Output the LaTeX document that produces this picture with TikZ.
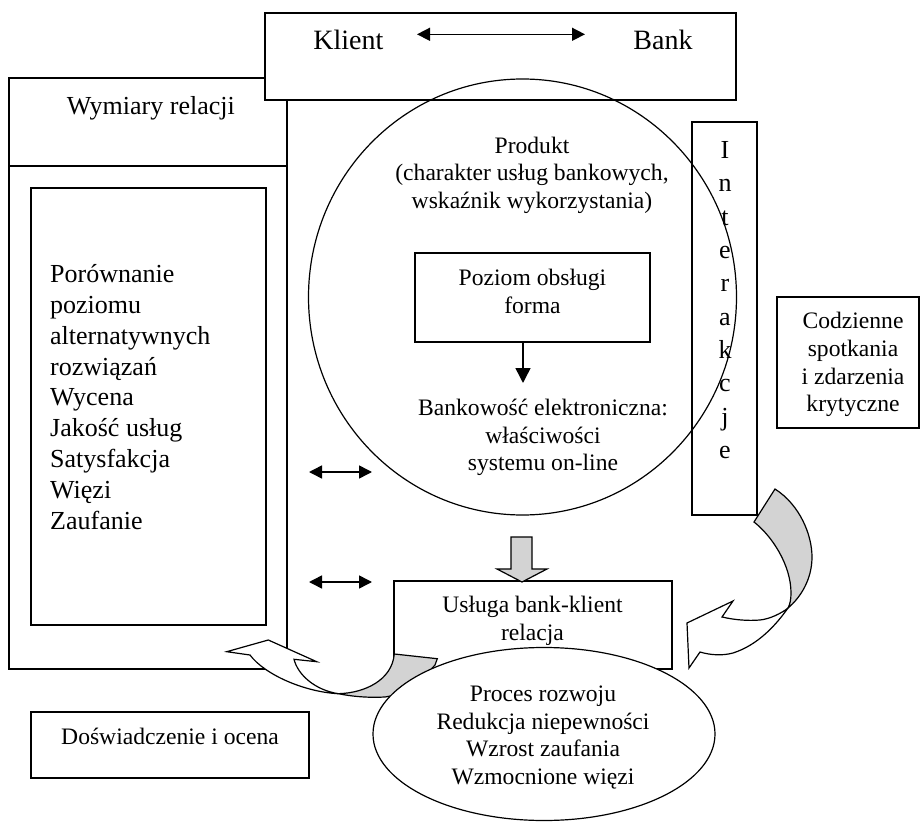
\documentclass[tikz,border=0pt]{standalone}
\usepackage{fontspec}
\setmainfont{Liberation Serif}
\usetikzlibrary{arrows.meta,shapes.geometric}
\definecolor{lg}{RGB}{211,211,211}
\begin{document}
\begin{tikzpicture}[x=1pt,y=-1pt,
  box/.style={draw, line width=1.2pt, rectangle, inner sep=0pt},
  oval/.style={draw, ellipse, line width=1.2pt, inner sep=0pt},
  tmain/.style={font=\fontsize{23.6}{27.6}\selectfont, inner sep=0pt, align=center},
  tbig/.style={font=\fontsize{26}{30.8}\selectfont, inner sep=0pt},
  ttop/.style={font=\fontsize{28}{32}\selectfont, inner sep=0pt},
  tint/.style={font=\fontsize{26}{33.3}\selectfont, inner sep=0pt, align=center},
  dbl/.style={{Triangle[length=13pt,width=13pt]}-{Triangle[length=13pt,width=13pt]}, line width=1.5pt},
  arr/.style={-{Triangle[length=15pt,width=15pt]}, line width=1.5pt},
  garrow/.style={draw, fill=lg, line width=1.2pt, line join=miter},
  warrow/.style={draw, fill=white, line width=1.2pt, line join=miter}
]
\useasboundingbox (0,0) rectangle (922,824);

% left block
\node[box, minimum width=278pt, minimum height=591pt] (lbox) at (148,373.5) {};
\coordinate (div) at (0,166);
\draw[line width=1.2pt] (lbox.west |- div) -- (lbox.east |- div);
\node[box, minimum width=235pt, minimum height=437pt] (inner) at (148.5,406.5) {};
\node[tbig, anchor=base] (wym) at (150.8,115) {Wymiary relacji};
\node[tbig, align=left, anchor=base west] (list) at (50,529.1)
  {Porównanie\\poziomu\\alternatywnych\\rozwiązań\\Wycena\\Jakość usług\\Satysfakcja\\Więzi\\Zaufanie};

% top box
\node[box, fill=white, minimum width=471pt, minimum height=87pt] (top) at (500.5,56.5) {};
\node[ttop, anchor=base] (klient) at (348.3,49.3) {Klient};
\node[ttop, anchor=base] (bank) at (663,49.3) {Bank};
\coordinate (ka) at (417,34.3);
\coordinate (kb) at (585,34.3);
\draw[dbl] (ka) -- (kb);

% product circle
\node[oval, minimum width=428pt, minimum height=436pt] (prod) at (522.5,297) {};
\node[tmain, anchor=base] (prodt) at (532,208.3)
  {Produkt\\(charakter usług bankowych,\\wskaźnik wykorzystania)};
\node[box, minimum width=235pt, minimum height=89pt] (poziom) at (532.5,297.5) {};
\node[tmain, anchor=base] (pozt) at (532.5,313.3) {Poziom obsługi\\forma};
\node[tmain, anchor=base] (bankt) at (543,470.7)
  {Bankowość elektroniczna:\\właściwości\\systemu on-line};
\coordinate (pa) at (523,383);
\draw[arr] (poziom.south -| pa) -- (pa);

% interakcje
\node[box, minimum width=65pt, minimum height=393pt] (inter) at (724.5,318.5) {};
\node[tint, anchor=base] (intert) at (725,458.3) {I\\n\\t\\e\\r\\a\\k\\c\\j\\e};

% codzienne
\node[box, minimum width=142pt, minimum height=131pt] (codz) at (848,362.5) {};
\node[tmain, anchor=base] (codzt) at (853,411.7) {Codzienne\\spotkania\\i zdarzenia\\krytyczne};

% double arrows left
\coordinate (d1a) at (309,472);
\coordinate (d1b) at (372,472);
\coordinate (d2a) at (309,582);
\coordinate (d2b) at (372,582);
\draw[dbl] (d1a) -- (d1b);
\draw[dbl] (d2a) -- (d2b);

% usluga
\node[box, minimum width=278pt, minimum height=88pt] (usl) at (533,625) {};
\node[tmain, anchor=base] (uslt) at (532.5,640) {Usługa bank-klient\\relacja};

% gray down arrow
\draw[garrow] (511,537) -- (532,537) -- (532,569) -- (547,569) -- (522,582) -- (497,569) -- (511,569) -- cycle;

% left curved arrow
\draw[garrow] (394.3,654) -- (437.3,658.7) -- (435,665)
  .. controls (420,682) and (405,694) .. (385,697)
  .. controls (365,698) and (350,696) .. (338.3,693.7)
  .. controls (365,693) and (392,680) .. (394.3,654) -- cycle;
\draw[warrow] (338.3,693.7) .. controls (305,692) and (265,675) .. (250,655)
  -- (226.7,651.7) -- (268.3,640) -- (316.7,661.7) -- (294,659.3)
  .. controls (298,675) and (315,690) .. (338.3,693.7) -- cycle;

% right curved arrow
\draw[garrow] (754,522) -- (775,489)
  .. controls (800,505) and (812,535) .. (812,557)
  .. controls (812,580) and (800,598) .. (788,608)
  .. controls (790,604) and (791,600) .. (791,593)
  .. controls (791,565) and (772,536) .. (754,522) -- cycle;
\draw[warrow] (788,608) .. controls (776,625) and (758,645) .. (733,653)
  .. controls (722,656) and (710,655) .. (700,652)
  -- (689,668) -- (687,623) -- (733,601) -- (722,617)
  .. controls (735,620) and (748,621) .. (760,620)
  .. controls (770,619) and (782,613) .. (788,608) -- cycle;

% process ellipse
\node[oval, fill=white, minimum width=342pt, minimum height=173pt] (proc) at (544,734) {};
\node[tmain, anchor=base] (proct) at (543,784.3)
  {Proces rozwoju\\Redukcja niepewności\\Wzrost zaufania\\Wzmocnione więzi};

% doswiadczenie
\node[box, minimum width=278pt, minimum height=66pt] (dosw) at (170,745) {};
\node[tmain, anchor=base] (doswt) at (170,744) {Doświadczenie i ocena};
\end{tikzpicture}
\end{document}
